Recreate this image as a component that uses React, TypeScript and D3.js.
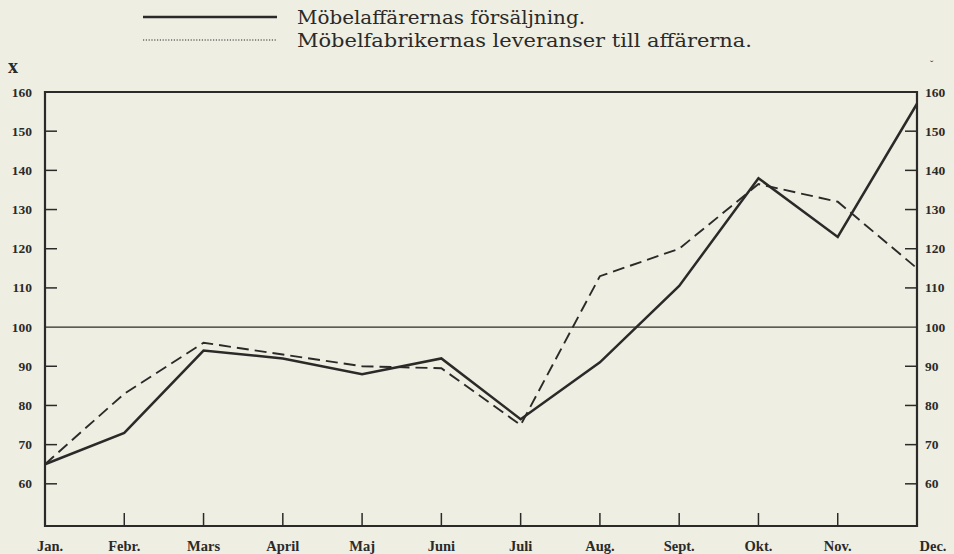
import React from "react";
import * as d3 from "d3";

const months = ["Jan.", "Febr.", "Mars", "April", "Maj", "Juni", "Juli", "Aug.", "Sept.", "Okt.", "Nov.", "Dec."];
const sales = [65, 73, 94, 92, 88, 92, 76.5, 91, 110.5, 138, 123, 157];
const deliveries = [65, 83, 96, 93, 90, 89.5, 75, 113, 120, 136.5, 132, 115];
const yTicks = [60, 70, 80, 90, 100, 110, 120, 130, 140, 150, 160];
const legendLabels = ["Möbelaffärernas försäljning.", "Möbelfabrikernas leveranser till affärerna."];

const W = 954;
const H = 554;
const L = 45;
const R = 917;
const T = 92;
const B = 526;

export default function App() {
  const x = d3.scalePoint<string>().domain(months).range([L, R]);
  const y = d3.scaleLinear().domain([50, 160]).range([523, T]);
  const line = d3
    .line<number>()
    .x((_, i) => x(months[i]) as number)
    .y((d) => y(d));
  const ink = "#2b2a28";
  const serif = "'DejaVu Serif', serif";
  const tickFont = "'Liberation Serif', serif";
  return (
    <svg
      width={W}
      height={H}
      style={{ position: "absolute", left: 0, top: 0, display: "block", background: "#eeeee3" }}
    >
      <rect x={0} y={0} width={W} height={H} fill="#eeeee3" />
      {/* legend */}
      <line x1={143} x2={277} y1={17} y2={17} stroke={ink} strokeWidth={2.6} />
      <line x1={143} x2={277} y1={40} y2={40} stroke={ink} strokeWidth={1} strokeDasharray="1.2 1.6" />
      <text x={297} y={24} fontFamily={serif} fontSize={19} fill={ink} textLength={288} lengthAdjust="spacingAndGlyphs">
        {legendLabels[0]}
      </text>
      <text x={297} y={47} fontFamily={serif} fontSize={19} fill={ink} textLength={455} lengthAdjust="spacingAndGlyphs">
        {legendLabels[1]}
      </text>
      <text x={8} y={73} fontFamily={tickFont} fontSize={20} fontWeight="bold" fill={ink}>
        x
      </text>
      <text x={930} y={68} fontFamily={tickFont} fontSize={10} fill={ink}>
        ˇ
      </text>

      {/* frame */}
      <line x1={L} x2={R} y1={T} y2={T} stroke={ink} strokeWidth={2} />
      <line x1={L} x2={R} y1={B} y2={B} stroke={ink} strokeWidth={2.2} />
      <line x1={L} x2={L} y1={T - 1} y2={B + 1} stroke={ink} strokeWidth={2.2} />
      <line x1={R} x2={R} y1={T - 1} y2={B + 1} stroke={ink} strokeWidth={2.2} />
      {/* 100 reference line */}
      <line x1={L} x2={R} y1={y(100)} y2={y(100)} stroke={ink} strokeWidth={1.3} />

      {/* y ticks and labels */}
      {yTicks.map((t) => (
        <g key={t}>
          {t !== 160 && t !== 100 && (
            <>
              <line x1={L} x2={L + 12} y1={y(t)} y2={y(t)} stroke={ink} strokeWidth={1.5} />
              <line x1={R - 12} x2={R} y1={y(t)} y2={y(t)} stroke={ink} strokeWidth={1.5} />
            </>
          )}
          <text x={32} y={y(t) + 4.5} textAnchor="end" fontFamily={tickFont} fontSize={13.5} fontWeight="bold" fill={ink}>
            {t}
          </text>
          <text x={925} y={y(t) + 4.5} textAnchor="start" fontFamily={tickFont} fontSize={13.5} fontWeight="bold" fill={ink}>
            {t}
          </text>
        </g>
      ))}

      {/* x ticks and labels */}
      {months.map((m, i) => {
        const px = x(m) as number;
        const lx = i === 0 ? px + 5 : i === months.length - 1 ? px + 16 : px;
        return (
          <g key={m}>
            {i > 0 && i < months.length - 1 && (
              <line x1={px} x2={px} y1={B - 13} y2={B} stroke={ink} strokeWidth={1.5} />
            )}
            <text x={lx} y={551} textAnchor="middle" fontFamily={tickFont} fontSize={14.5} fontWeight="bold" fill={ink}>
              {m}
            </text>
          </g>
        );
      })}

      {/* series */}
      <path d={line(deliveries) || ""} fill="none" stroke={ink} strokeWidth={1.9} strokeDasharray="12 6" />
      <path d={line(sales) || ""} fill="none" stroke={ink} strokeWidth={2.5} strokeLinejoin="miter" />
    </svg>
  );
}
